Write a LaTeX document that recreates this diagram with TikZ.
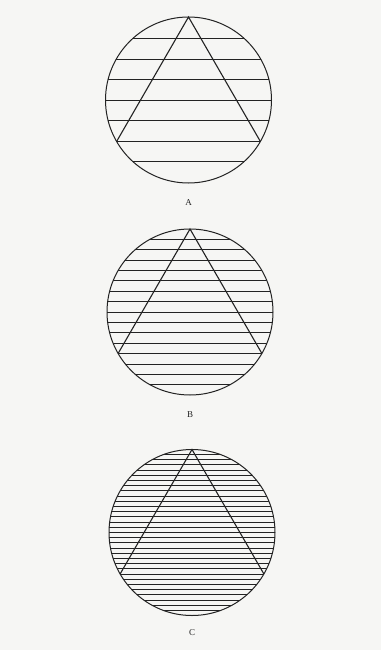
\documentclass[tikz,border=0pt]{standalone}
\usepackage{fontspec}
\setmainfont{Liberation Serif}
\definecolor{bgc}{RGB}{246,246,244}
\definecolor{ink}{RGB}{35,35,35}
\tikzset{
  ring/.style={draw=ink, line width=1pt},
  hatch/.style={draw=ink, line width=0.95pt},
  tri/.style={draw=ink, line width=1.1pt, line join=miter},
  lab/.style={font=\fontsize{9}{11}\selectfont, text=ink, inner sep=0pt}
}
\begin{document}
\begin{tikzpicture}[x=1pt,y=-1pt]
\fill[bgc] (0,0) rectangle (381,650);
\useasboundingbox (0,0) rectangle (381,650);
\foreach \cx/\cy/\sp/\a/\b/\lab/\ly in {188.5/100/20.5/-3/3/A/203, 190/312/10.4/-7/7/B/415, 192/532.5/5.2/-15/15/C/633}{
  \begin{scope}
    \clip (\cx,\cy) circle (83pt);
    \foreach \k in {\a,...,\b}
      \draw[hatch] (\cx-90,\cy+\k*\sp) -- (\cx+90,\cy+\k*\sp);
  \end{scope}
  \draw[ring] (\cx,\cy) circle (83pt);
  \coordinate (apex\lab) at (\cx,\cy-83);
  \coordinate (left\lab) at (\cx-71.9,\cy+41.5);
  \coordinate (right\lab) at (\cx+71.9,\cy+41.5);
  \draw[tri] (left\lab) -- (apex\lab) -- (right\lab);
  \node[lab] (label\lab) at (\cx,\ly) {\lab};
}
\end{tikzpicture}
\end{document}
